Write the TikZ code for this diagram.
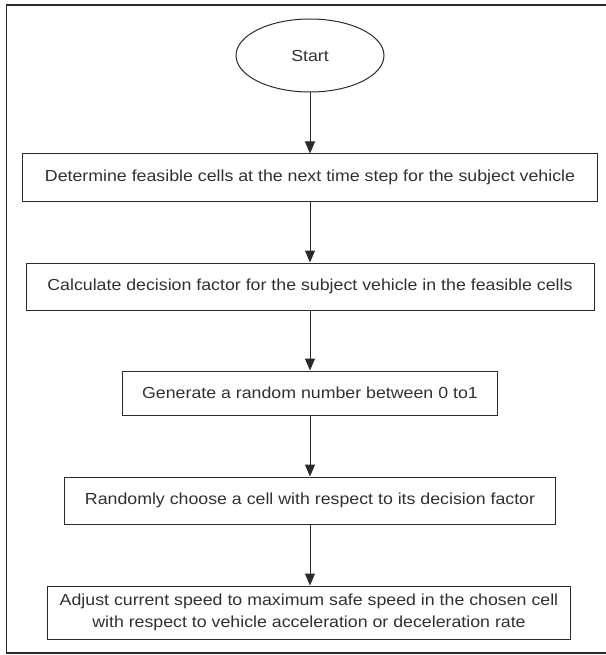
\documentclass[tikz,border=0pt]{standalone}
\usepackage{fontspec}
\setmainfont[FakeStretch=1.11]{Liberation Sans}
\usetikzlibrary{arrows.meta,shapes.geometric}
\definecolor{ink}{HTML}{2A2A2A}
\definecolor{txt}{HTML}{303030}
\begin{document}
\begin{tikzpicture}[x=1pt,y=-1pt,
  every node/.style={font=\fontsize{16}{22.7}\selectfont, text=txt, inner sep=0pt},
  procbox/.style={draw=ink, line width=1pt, rectangle, align=center},
  startshape/.style={draw=ink, line width=1pt, ellipse},
  flow/.style={draw=ink, line width=1pt, -{Triangle[length=12pt,width=10pt]}}]
\useasboundingbox (0,0) rectangle (605,655);
\draw[draw=ink, line width=1.6pt] (6.5,5) rectangle (608,653);
\node[startshape, minimum width=148pt, minimum height=73pt] (start) at (310,55.5) {Start};
\node[procbox, minimum width=575pt, minimum height=47pt] (b1) at (310,177.5)
  {Determine feasible cells at the next time step for the subject vehicle};
\node[procbox, minimum width=568pt, minimum height=47pt] (b2) at (310,286.5)
  {Calculate decision factor for the subject vehicle in the feasible cells};
\node[procbox, minimum width=375pt, minimum height=44pt] (b3) at (310,393)
  {Generate a random number between 0 to1};
\node[procbox, minimum width=491pt, minimum height=47pt] (b4) at (310,500.5)
  {Randomly choose a cell with respect to its decision factor};
\node[procbox, minimum width=523pt, minimum height=53pt] (b5) at (309,612.5)
  {Adjust current speed to maximum safe speed in the chosen cell\\with respect to vehicle acceleration or deceleration rate};
\draw[flow] (start.south) -- (b1.north);
\draw[flow] (b1.south) -- (b2.north);
\draw[flow] (b2.south) -- (b3.north);
\draw[flow] (b3.south) -- (b4.north);
\draw[flow] (b4.south) -- (b4.south |- b5.north);
\end{tikzpicture}
\end{document}
